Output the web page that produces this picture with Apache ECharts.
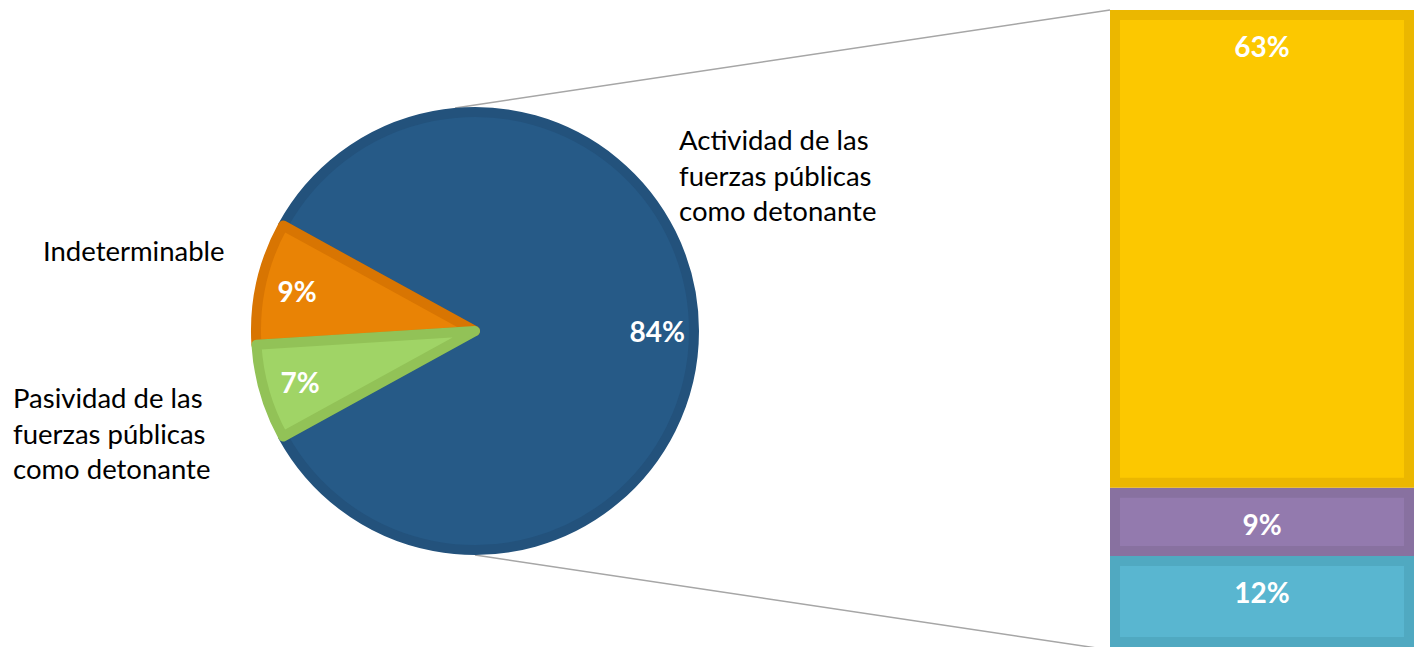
<!DOCTYPE html>
<html>
<head>
<meta charset="utf-8">
<script src="https://cdn.jsdelivr.net/npm/echarts@6/dist/echarts.min.js"></script>
<style>
html,body{margin:0;padding:0;background:#fff;}
#c{width:1414px;height:647px;}
</style>
</head>
<body>
<div id="c"></div>
<script>
// ---- Data ----
const pieCategories = ['Actividad de las\nfuerzas públicas\ncomo detonante', 'Indeterminable', 'Pasividad de las\nfuerzas públicas\ncomo detonante'];
const pieValues = [84, 9, 7];
const barCategories = ['Cat C', 'Cat B', 'Cat A']; // bottom -> top
const barValues = [12, 9, 63];

// ---- Styles ----
const pieFill = ['#265A87', '#E98305', '#A0D466'];
const pieEdge = ['#23527C', '#D87502', '#92C257'];
const barFill = ['#59B6D0', '#937AAE', '#FCC800'];
const barEdge = ['#50A9C1', '#8871A0', '#EBB700'];
const FONT = 'Lato, "Open Sans", sans-serif';

const pieTotal = pieValues.reduce((a, b) => a + b, 0);
const barTotal = barValues.reduce((a, b) => a + b, 0);
const startAngle = 360 - 180 * pieValues[0] / pieTotal;

const CX = 475, CY = 331, R = 224, BW = 10;
const GRID = {left: 1110, top: 10, width: 320, height: 640};

const chart = echarts.init(document.getElementById('c'), null, {renderer: 'svg'});

const series = [
  {
    type: 'pie', center: [CX, CY], radius: [0, R - BW / 2],
    startAngle: startAngle, clockwise: false, avoidLabelOverlap: false,
    label: {show: false}, labelLine: {show: false}, silent: true,
    data: pieValues.map((v, i) => ({
      value: v, name: pieCategories[i],
      itemStyle: {color: pieFill[i], borderColor: pieEdge[i], borderWidth: BW}
    }))
  },
  {
    type: 'pie', center: [CX, CY], radius: [R * 0.6, R],
    startAngle: startAngle, clockwise: false, avoidLabelOverlap: false,
    silent: true, z: 5,
    itemStyle: {color: 'rgba(0,0,0,0)'},
    label: {show: true, position: 'inside', formatter: '{c}%', color: '#fff', fontWeight: 'bold', fontSize: 28, fontFamily: FONT},
    labelLine: {show: false},
    data: pieValues.map((v, i) => ({value: v, name: pieCategories[i]}))
  }
];

barValues.forEach((v, i) => {
  series.push({
    type: 'bar', stack: 'b', barWidth: '100%', silent: true,
    data: [v],
    itemStyle: {color: barFill[i], borderColor: barEdge[i], borderWidth: BW},
    label: {show: true, position: 'insideTop', distance: 22, formatter: '{c}%', color: '#fff', fontWeight: 'bold', fontSize: 28, fontFamily: FONT}
  });
});

chart.setOption({
  animation: false,
  grid: GRID,
  xAxis: {type: 'category', data: [''], show: false},
  yAxis: {type: 'value', min: 0, max: barTotal, show: false},
  series: series
});

// connector lines from pie to bar corners
const lineStyle = {stroke: '#A6A6A6', lineWidth: 1.5};
const labelStyle = {fill: '#000', fontSize: 27.5, fontFamily: FONT, lineHeight: 35.5};
chart.setOption({
  graphic: [
    {type: 'line', z: -1, shape: {x1: CX - 20, y1: CY - R + 1, x2: GRID.left, y2: GRID.top}, style: lineStyle},
    {type: 'line', z: -1, shape: {x1: CX, y1: CY + R, x2: GRID.left, y2: GRID.top + GRID.height}, style: lineStyle},
    {type: 'text', left: 679, top: 122, style: Object.assign({text: pieCategories[0]}, labelStyle)},
    {type: 'text', left: 43, top: 233, style: Object.assign({text: pieCategories[1]}, labelStyle)},
    {type: 'text', left: 13, top: 380, style: Object.assign({text: pieCategories[2]}, labelStyle)}
  ]
});
</script>
</body>
</html>
